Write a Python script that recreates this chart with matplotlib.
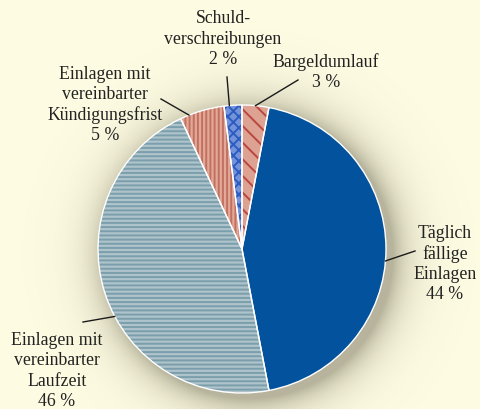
# pie chart: Geldmengenaggregat, anteile der komponenten

import matplotlib.pyplot as plt
import numpy as np

plt.rcParams["font.family"] = ["Liberation Serif", "DejaVu Serif"]

# data, counterclockwise from the top
names = ["Schuld-\nverschreibungen",
         "Einlagen mit\nvereinbarter\nKündigungsfrist",
         "Einlagen mit\nvereinbarter\nLaufzeit",
         "Täglich\nfällige\nEinlagen",
         "Bargeldumlauf"]
shares = [2, 5, 46, 44, 3]

# styles
BG = "#fdfbe1"
TEXT = "#222222"
faces = ["#7593d8", "#e2a898", "#aec3ca", "#02529e", "#dea292"]
hatch_cols = ["#2c5cc2", "#c2705f", "#7a9eab", "#02529e", "#b9473f"]
hatches = ["xxx", "||||", "----", "", "\\\\"]

# where the labels sit (pixels in the 481x410 picture) and where the leader starts
label_px = [(223, 39), (105, 105), (57, 371), (445, 264), (326, 72)]
leader_px = [(227, 78), (161, 100), (83, 323), (415, 252), (298, 81)]
# where on the wedge the leader points (0 = start angle, 1 = end angle)
anchor_frac = [0.7, 0.8, 0.56, 0.47, 0.5]

W, H = 481, 410
CX, CY, R = 242, 250, 144  # pie centre and radius in pixels


def px(x, y):
    # pixel (from top left) -> data coords where the pie has radius 1
    return (x - CX) / R, (CY - y) / R


fig = plt.figure(figsize=(W / 100, H / 100), dpi=100)
fig.patch.set_facecolor(BG)
ax = fig.add_axes([0, 0, 1, 1])
ax.set_facecolor(BG)

x0, y1 = px(0, 0)
x1, y0 = px(W, H)

# soft shadow around the pie
gx = np.linspace(x0, x1, 600)
gy = np.linspace(y0, y1, 520)
XX, YY = np.meshgrid(gx, gy)
d = np.hypot(XX - 0.05, YY + 0.04)
alpha = np.where(d > 0.9, 0.48 * np.exp(-np.clip(d - 1.0, 0, None) / 0.12), 0.48)
shadow = np.zeros(XX.shape + (4,))
shadow[..., 0] = 0.42
shadow[..., 1] = 0.40
shadow[..., 2] = 0.32
shadow[..., 3] = alpha
ax.imshow(shadow, extent=(x0, x1, y0, y1), origin="lower", zorder=0,
          interpolation="bilinear")

plt.rcParams["hatch.linewidth"] = 1.4

# first layer: fill + hatch (hatch takes the edge colour)
wedges, _ = ax.pie(shares, startangle=90, counterclock=True, radius=1,
                   colors=faces, wedgeprops=dict(linewidth=0))
for w, hc, h in zip(wedges, hatch_cols, hatches):
    w.set_edgecolor(hc)
    w.set_linewidth(0)
    w.set_hatch(h)
    w.set_zorder(2)
    if hasattr(w, "set_hatch_linewidth"):
        w.set_hatch_linewidth(1.4)

# second layer: thin white borders
borders, _ = ax.pie(shares, startangle=90, counterclock=True, radius=1,
                    wedgeprops=dict(fill=False, edgecolor="white", linewidth=1.0))
for b in borders:
    b.set_zorder(3)

# labels and leader lines
for w, name, val, lp, ldp, fr in zip(wedges, names, shares, label_px, leader_px, anchor_frac):
    ang = np.deg2rad(w.theta1 + fr * (w.theta2 - w.theta1))
    ex, ey = np.cos(ang), np.sin(ang)
    sx, sy = px(*ldp)
    ax.plot([sx, ex], [sy, ey], color="#1a1a1a", linewidth=1.0, zorder=4)
    tx, ty = px(*lp)
    ax.text(tx, ty, f"{name}\n{val} %", ha="center", va="center",
            fontsize=12.8, color=TEXT, linespacing=1.25, zorder=5)

ax.set_xlim(x0, x1)
ax.set_ylim(y0, y1)
ax.set_aspect("auto")
ax.axis("off")

fig.savefig("out.png", dpi=100, facecolor=BG)
